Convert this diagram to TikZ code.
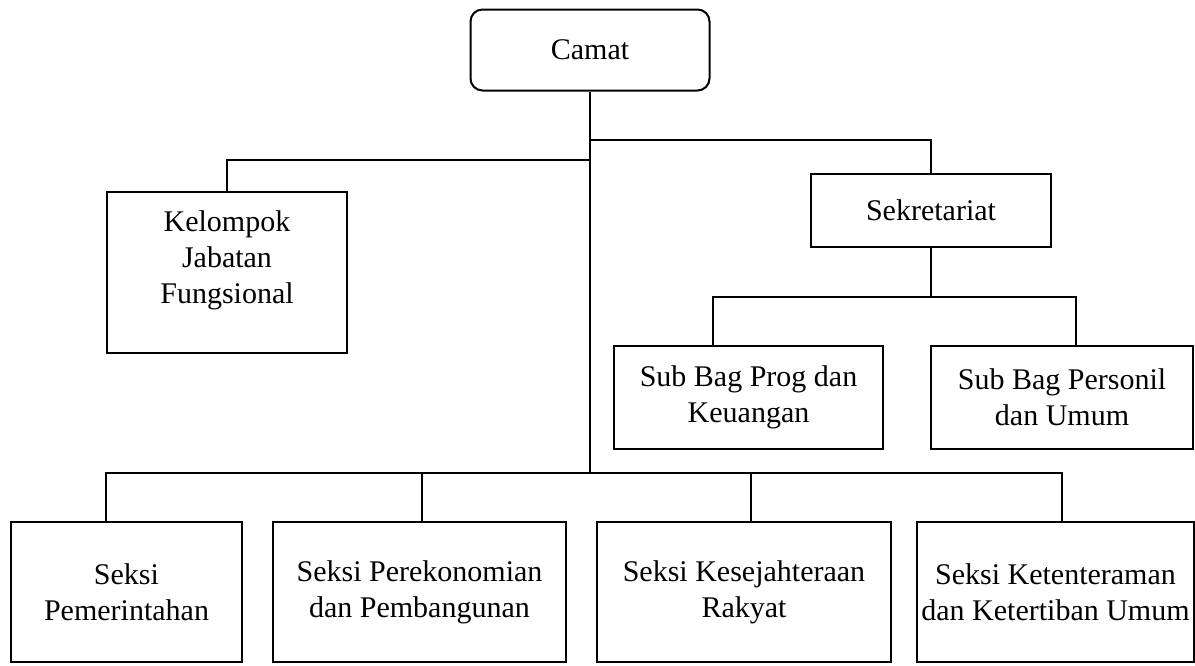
\documentclass[tikz,border=0pt]{standalone}
\usepackage{fontspec}
\setmainfont{Liberation Serif}
\usetikzlibrary{calc}
\tikzset{
  unit/.style={draw=black,line width=1pt,align=center,inner sep=2pt,font=\fontsize{15pt}{18pt}\selectfont},
  head/.style={unit,rounded corners=6pt},
  link/.style={draw=black,line width=1pt},
}

\begin{document}
\begin{tikzpicture}[x=0.5pt,y=-0.5pt]
  \useasboundingbox[fill=white] (0,0) rectangle (1195,665);
  % upper levels
  \node[head,minimum width=119.5pt,minimum height=40.5pt] (camat) at (590,50) {Camat};
  \node[unit,minimum width=120pt,minimum height=80.5pt,text depth=15pt] (kjf) at (227,272.5) {Kelompok\\Jabatan\\Fungsional};
  \node[unit,minimum width=120pt,minimum height=36.5pt] (sek) at (931,210.5) {Sekretariat};
  \node[unit,minimum width=134.5pt,minimum height=51.5pt] (sbprog) at (748.5,397.5) {Sub Bag Prog dan\\Keuangan};
  \node[unit,minimum width=131pt,minimum height=51.5pt] (sbpers) at (1062,397.5) {Sub Bag Personil\\dan Umum};
  \coordinate (jl) at (590,160);
  \coordinate (jr) at (590,140);
  \coordinate (sb) at (931,297);
  \coordinate (bus) at (590,473);
  \draw[link] (camat.south) -- (camat.south |- bus);
  \draw[link] (jl) -| (kjf.north);
  \draw[link] (jr) -| (sek.north);
  \draw[link] (sek.south) -- (sb);
  \draw[link] ($(sbprog.north)+(-35.5,0)$) |- (sb) -| ($(sbpers.north)+(14,0)$);
  % seksi row
  \foreach \n/\x/\w/\d/\t in {b1/126.5/115.5pt/-20.5/{Seksi\\Pemerintahan},
      b2/419.5/146.5pt/2.5/{Seksi Perekonomian\\dan Pembangunan},
      b3/744/147pt/7/{Seksi Kesejahteraan\\Rakyat},
      b4/1055.5/137.5pt/6.5/{Seksi Ketenteraman\\dan Ketertiban Umum}}{
    \node[unit,minimum width=\w,minimum height=70pt] (\n) at (\x,592) {\t};
    \draw[link] ($(\n.north)+(\d,0)$) |- (bus);
  }
  \draw[link] ($(b1.north)+(-20.5,0)$) |- (bus) -| ($(b4.north)+(6.5,0)$);
\end{tikzpicture}
\end{document}
